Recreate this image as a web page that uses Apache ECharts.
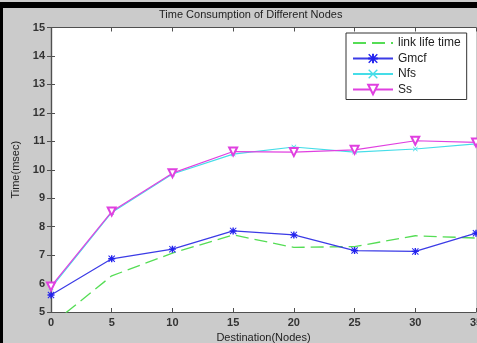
<!DOCTYPE html>
<html>
<head>
<meta charset="utf-8">
<script src="https://cdn.jsdelivr.net/npm/echarts@6/dist/echarts.min.js"></script>
<style>
html,body{margin:0;padding:0;background:#cbcbcb;overflow:hidden;}
#c{width:477px;height:343px;}
</style>
</head>
<body>
<div id="c"></div>
<script>
var destNodes = [0, 5, 10, 15, 20, 25, 30, 35];
var linkLifeTime = [4.55, 6.27, 7.07, 7.71, 7.27, 7.30, 7.68, 7.60];
var gmcf = [5.60, 6.87, 7.21, 7.85, 7.71, 7.16, 7.13, 7.77];
var nfs = [5.85, 8.50, 9.85, 10.55, 10.80, 10.62, 10.73, 10.91];
var ss = [5.90, 8.53, 9.88, 10.64, 10.62, 10.70, 11.02, 10.96];
var seriesNames = ['link life time', 'Gmcf', 'Nfs', 'Ss'];
var titleText = 'Time Consumption of Different Nodes';
var xName = 'Destination(Nodes)';
var yName = 'Time(msec)';

function pairs(ys){ return destNodes.map(function(x,i){ return [x, ys[i]]; }); }

var asterisk = 'path://M0 4h10v2h-10zM4 0h2v10h-2zM1 0L10 9L9 10L0 1zM9 0L10 1L1 10L0 9z';
var cross = 'path://M1 0L10 9L9 10L0 1zM9 0L10 1L1 10L0 9z';

var axisCol = '#505050';
var lblStyle = {color:'#333', fontFamily:'Arial, Liberation Sans', fontSize:11, fontWeight:'bold'};

var chart = echarts.init(document.getElementById('c'), null, {renderer:'canvas'});
chart.setOption({
  backgroundColor:'#cbcbcb',
  animation:false,
  title:{
    text:titleText, left:159, top:9, padding:0,
    textStyle:{fontFamily:'Arial, Liberation Sans', fontSize:11, fontWeight:'normal', color:'#222'}
  },
  graphic:[
    {type:'rect', shape:{x:0,y:2,width:477,height:6}, style:{fill:'#000'}, z:100},
    {type:'rect', shape:{x:0,y:2,width:3,height:341}, style:{fill:'#000'}, z:100}
  ],
  legend:{
    orient:'vertical', left:346, top:33, padding:[3,6,3,6], itemGap:1.5,
    itemWidth:40, itemHeight:12,
    backgroundColor:'#fff', borderColor:'#333', borderWidth:1, borderRadius:0,
    textStyle:{fontFamily:'Arial, Liberation Sans', fontSize:12, color:'#222', lineHeight:14},
    data:seriesNames
  },
  grid:{left:51, top:27.5, right:1, bottom:31, containLabel:false, outerBoundsMode:'none',
        show:true, backgroundColor:'#fff', borderWidth:0},
  xAxis:[{
    type:'value', min:0, max:35, interval:5, position:'bottom',
    name:xName, nameLocation:'middle', nameGap:19,
    nameTextStyle:{fontFamily:'Arial, Liberation Sans', fontSize:11, color:'#222'},
    axisLine:{lineStyle:{color:axisCol, width:1.2}},
    axisTick:{inside:true, length:4, lineStyle:{color:axisCol}},
    axisLabel:Object.assign({margin:5, showMaxLabel:true, hideOverlap:false}, lblStyle),
    splitLine:{show:false}
  },{
    type:'value', min:0, max:35, interval:5, position:'top',
    axisLine:{lineStyle:{color:axisCol, width:1.2}},
    axisTick:{inside:true, length:4, lineStyle:{color:axisCol}},
    axisLabel:{show:false}, splitLine:{show:false}
  }],
  yAxis:[{
    type:'value', min:5, max:15, interval:1, position:'left',
    name:yName, nameLocation:'middle', nameGap:25, nameRotate:90,
    nameTextStyle:{fontFamily:'Arial, Liberation Sans', fontSize:11, color:'#222'},
    axisLine:{lineStyle:{color:axisCol, width:1.2}},
    axisTick:{inside:true, length:4, lineStyle:{color:axisCol}},
    axisLabel:Object.assign({margin:6}, lblStyle),
    splitLine:{show:false}
  },{
    type:'value', min:5, max:15, interval:1, position:'right',
    axisLine:{lineStyle:{color:axisCol, width:1.2}},
    axisTick:{inside:true, length:4, lineStyle:{color:axisCol}},
    axisLabel:{show:false}, splitLine:{show:false}
  }],
  series:[
    {name:seriesNames[0], type:'line', data:pairs(linkLifeTime), showSymbol:false, symbol:'circle',
     lineStyle:{color:'#55dd55', width:1.3, type:[13,6]}, itemStyle:{color:'rgba(0,0,0,0)', borderWidth:0}, clip:true, z:2},
    {name:seriesNames[1], type:'line', data:pairs(gmcf), symbol:asterisk, symbolSize:7,
     lineStyle:{color:'#3b3be6', width:1.2}, itemStyle:{color:'#2222ee'}, clip:true, z:3},
    {name:seriesNames[2], type:'line', data:pairs(nfs), symbol:cross, symbolSize:5,
     lineStyle:{color:'#45dde8', width:1.2}, itemStyle:{color:'#45dde8'}, clip:true, z:4},
    {name:seriesNames[3], type:'line', data:pairs(ss), symbol:'emptyTriangle', symbolRotate:180, symbolSize:8,
     lineStyle:{color:'#e040e0', width:1.2}, itemStyle:{color:'#e040e0', borderWidth:1}, clip:true, z:5}
  ]
});
</script>
</body>
</html>
